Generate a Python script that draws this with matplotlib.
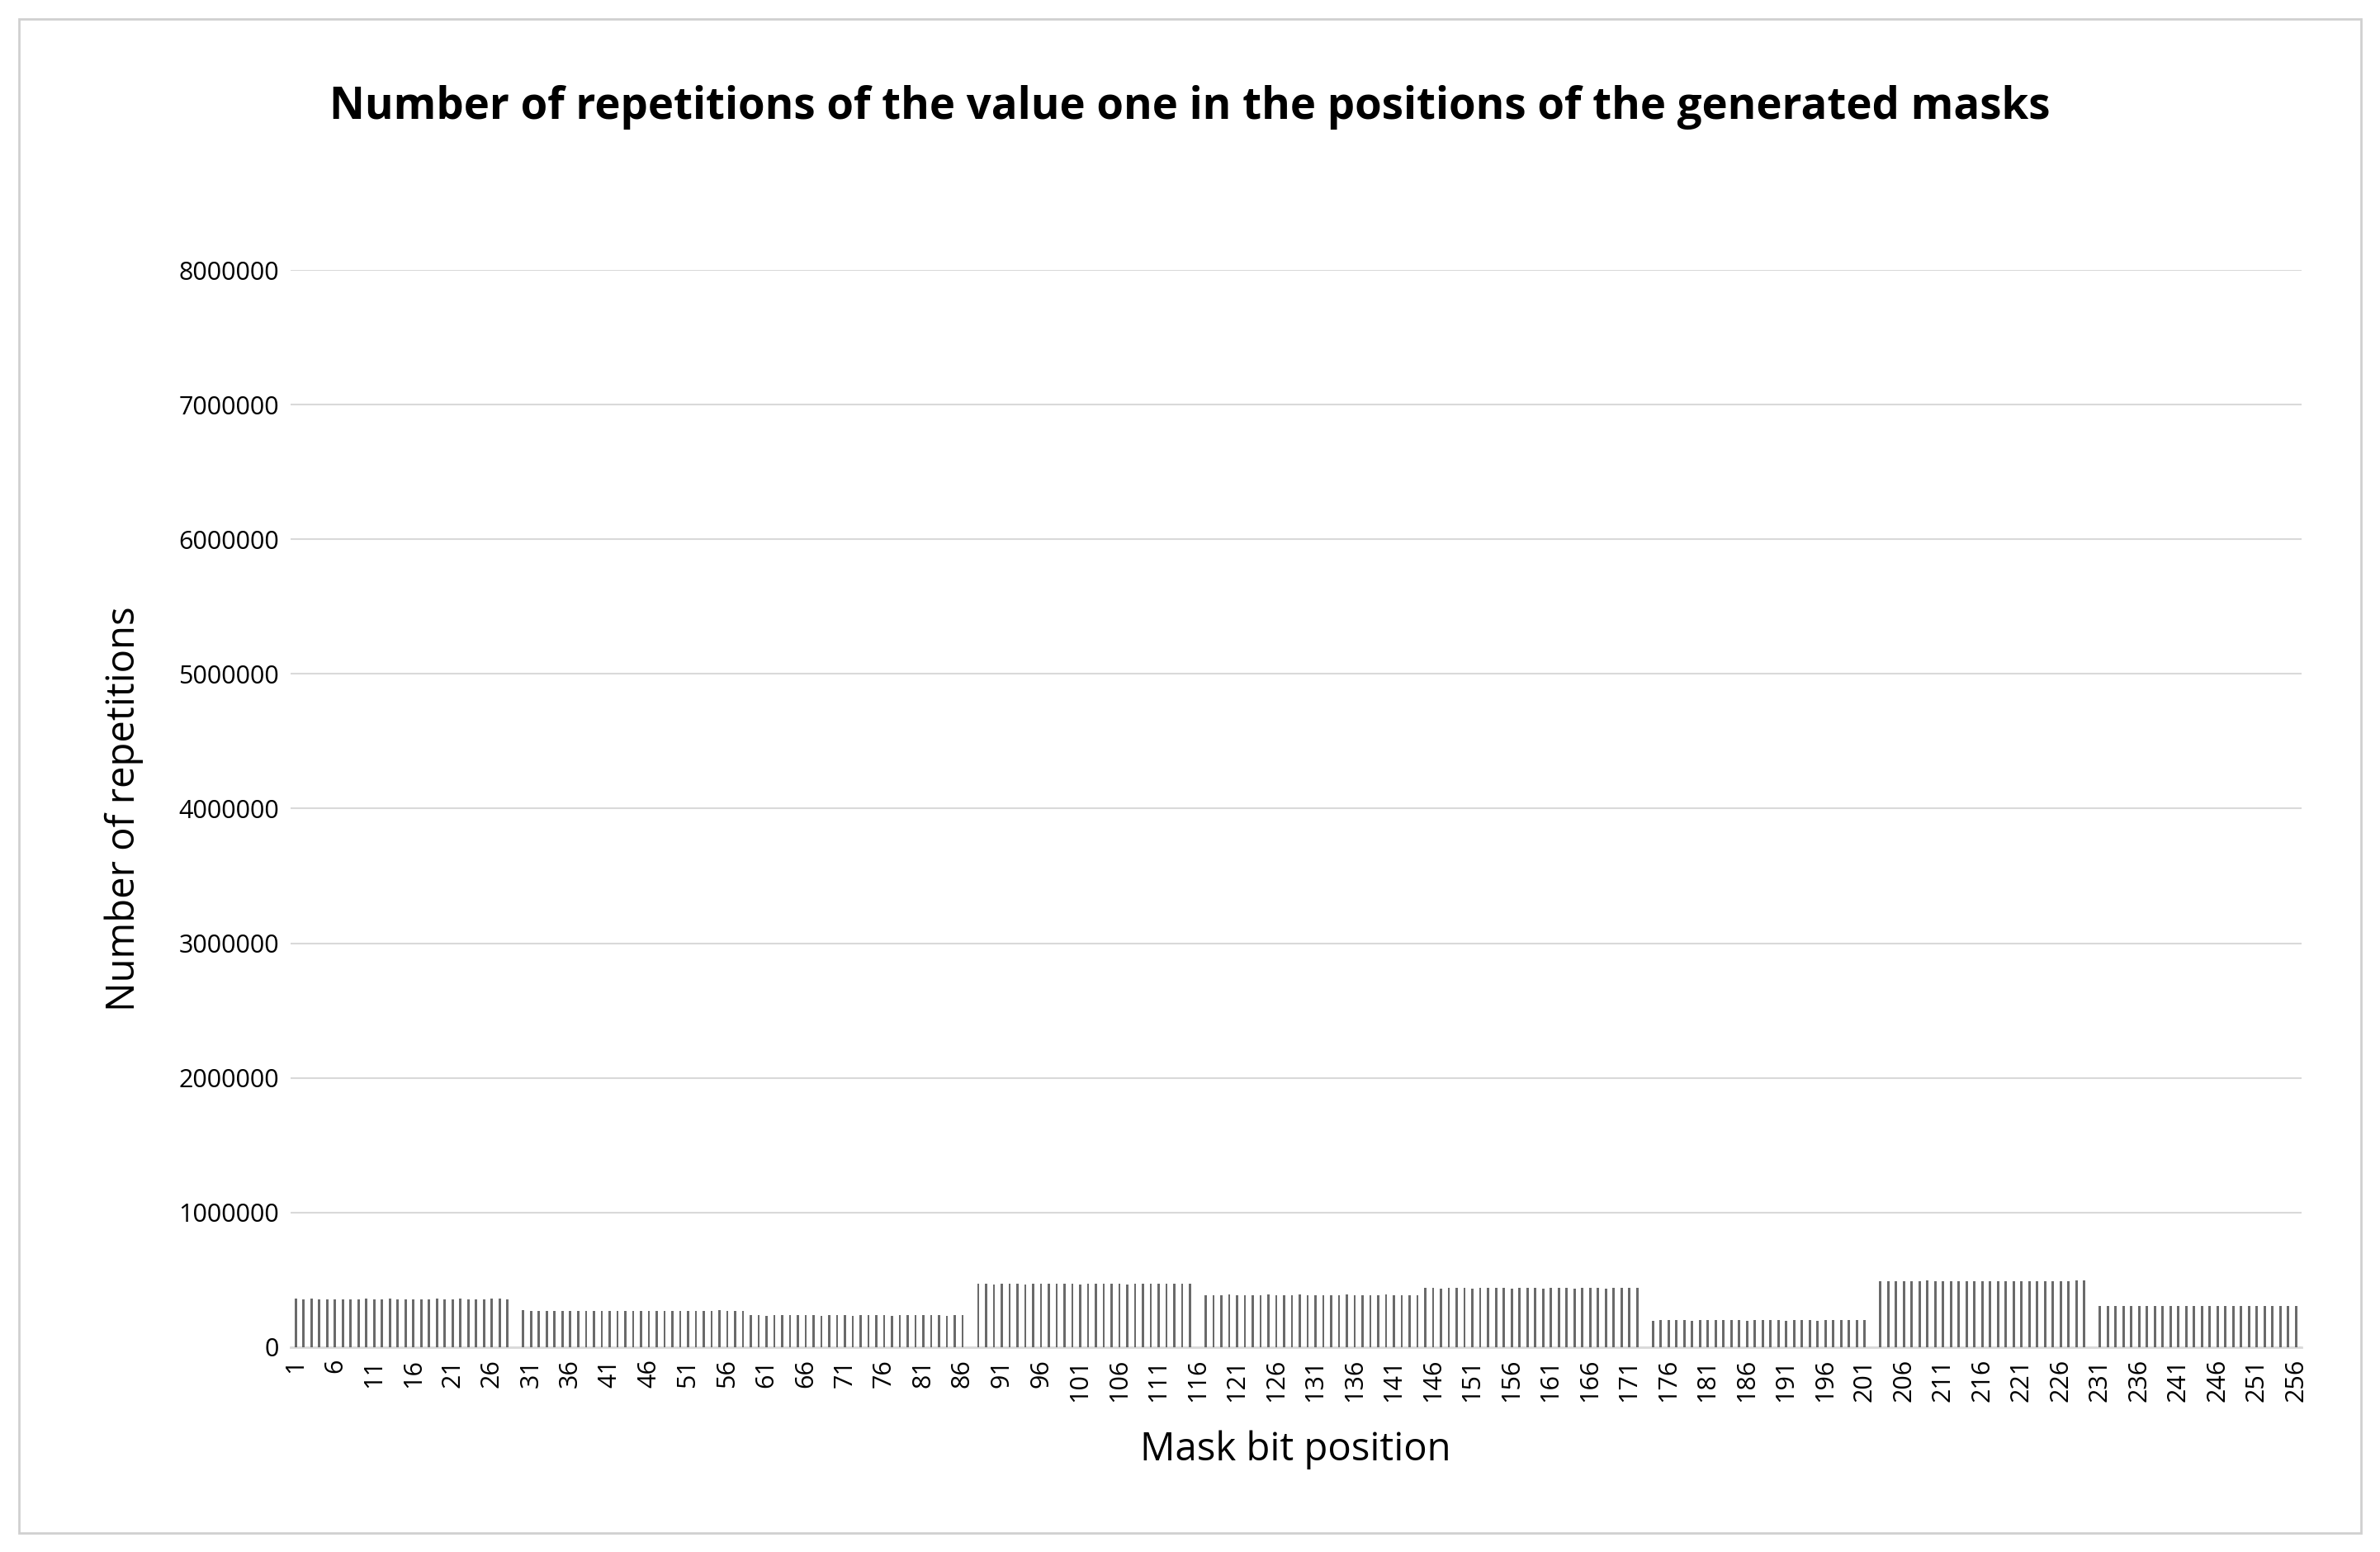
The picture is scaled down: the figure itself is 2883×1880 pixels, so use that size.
import numpy as np
import matplotlib.pyplot as plt

plt.rcParams['font.family'] = ['Open Sans', 'DejaVu Sans']

# counts per mask bit position (0 = no bar)
g1 = [358000, 356000, 362000, 355000, 356000, 354000, 357000, 355000, 353000, 359000,
      355000, 356000, 360000, 357000, 355000, 356000, 354000, 356000, 361000, 355000,
      357000, 360000, 356000, 354000, 357000, 360000, 359000, 356000]
g2 = [272000, 268000, 266000, 267000, 268000, 266000, 267000, 269000, 271000, 267000,
      268000, 266000, 267000, 268000, 270000, 266000, 267000, 268000, 267000, 266000,
      268000, 267000, 266000, 269000, 267000, 272000, 270000, 268000, 271000]
g3 = [236000, 237000, 235000, 236000, 237000, 236000, 236000, 238000, 236000, 235000,
      237000, 236000, 236000, 235000, 237000, 236000, 236000, 237000, 235000, 236000,
      238000, 237000, 240000, 236000, 237000, 235000, 236000, 236000]
g4 = [472000, 471000, 468000, 472000, 470000, 471000, 468000, 471000, 469000, 472000,
      470000, 472000, 469000, 468000, 471000, 469000, 472000, 470000, 471000, 468000,
      470000, 472000, 469000, 471000, 474000, 470000, 472000, 469000]
g5 = [388000, 385000, 387000, 389000, 386000, 388000, 387000, 386000, 389000, 387000,
      386000, 388000, 390000, 387000, 386000, 388000, 387000, 386000, 389000, 387000,
      388000, 386000, 387000, 389000, 387000, 386000, 388000, 387000]
g6 = [438000, 440000, 437000, 439000, 438000, 440000, 437000, 438000, 439000, 441000,
      438000, 437000, 439000, 438000, 440000, 437000, 438000, 439000, 438000, 437000,
      440000, 438000, 439000, 437000, 438000, 440000, 439000, 443000]
g7 = [198000, 201000, 199000, 200000, 202000, 198000, 200000, 199000, 201000, 203000,
      200000, 199000, 198000, 201000, 200000, 202000, 199000, 198000, 200000, 201000,
      199000, 198000, 202000, 201000, 200000, 199000, 203000, 201000]
g8 = [492000, 488000, 490000, 487000, 491000, 489000, 493000, 490000, 488000, 491000,
      489000, 490000, 492000, 488000, 489000, 491000, 490000, 488000, 492000, 489000,
      490000, 491000, 488000, 489000, 490000, 493000, 495000]
g9 = [306000, 305000, 304000, 306000, 305000, 303000, 306000, 305000, 304000, 306000,
      305000, 304000, 303000, 306000, 305000, 304000, 306000, 305000, 304000, 303000,
      305000, 306000, 304000, 305000, 303000, 304000]

counts = g1 + [0] + g2 + g3 + [0] + g4 + [0] + g5 + g6 + [0] + g7 + [0] + g8 + [0] + g9
positions = np.arange(1, len(counts) + 1)

fig = plt.figure(figsize=(28.83, 18.80), dpi=100)
fig.patches.append(plt.Rectangle((0.008, 0.012), 0.984, 0.976, transform=fig.transFigure,
                                 fill=False, edgecolor='#d0d0d0', linewidth=2))
ax = fig.add_axes([0.122, 0.132, 0.845, 0.694])

ax.bar(positions, counts, width=0.3, color='#6a6a6a', zorder=3)

ax.set_xlim(0.3, len(counts) + 0.7)
ax.set_ylim(0, 8000000)
ax.set_yticks(np.arange(0, 8000001, 1000000))
ax.set_yticklabels([str(v) for v in range(0, 8000001, 1000000)], fontsize=22)
ax.set_xticks(positions[::5])
ax.set_xticklabels([str(p) for p in positions[::5]], rotation=90, fontsize=22)
ax.grid(axis='y', color='#d9d9d9', linewidth=1.5, zorder=0)
for s in ['top', 'right', 'left']:
    ax.spines[s].set_visible(False)
ax.spines['bottom'].set_color('#d9d9d9')
ax.spines['bottom'].set_linewidth(2)
ax.tick_params(axis='both', length=0, pad=10)

ax.set_xlabel('Mask bit position', fontsize=34, labelpad=25)
ax.set_ylabel('Number of repetitions', fontsize=34, labelpad=30)
fig.suptitle('Number of repetitions of the value one in the positions of the generated masks',
             fontsize=38, fontweight='bold', y=0.945)

fig.savefig('out.png', dpi=100, facecolor='white')
